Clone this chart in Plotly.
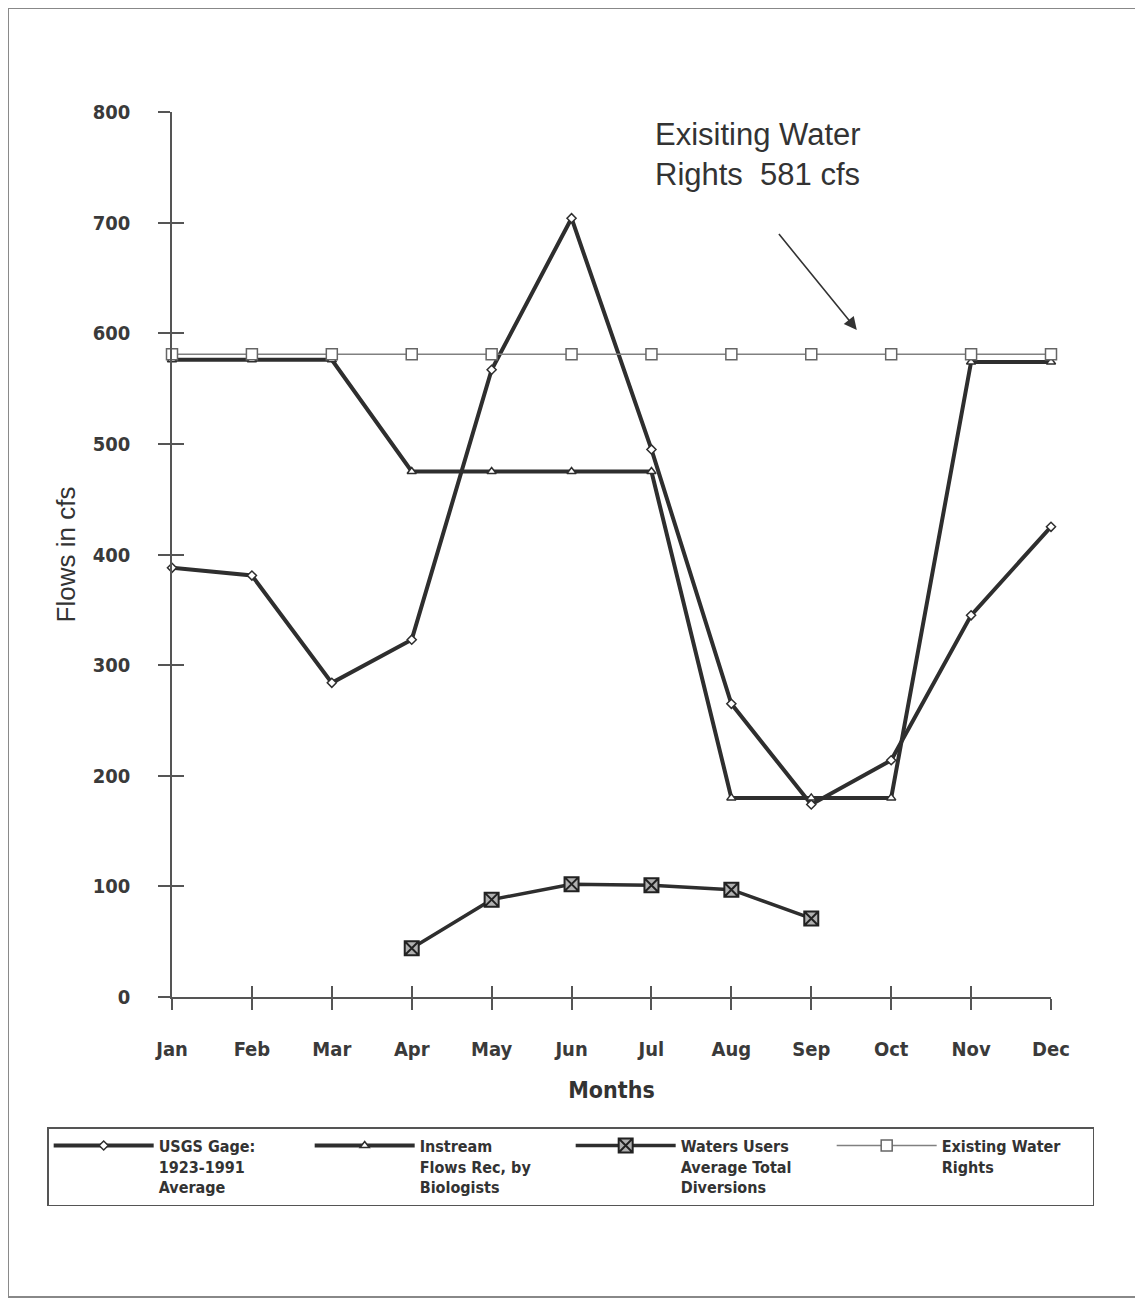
import plotly.graph_objects as go

months = ["Jan", "Feb", "Mar", "Apr", "May", "Jun", "Jul", "Aug", "Sep", "Oct", "Nov", "Dec"]
usgs_gage = [388, 381, 284, 323, 567, 704, 495, 265, 174, 214, 345, 425]
instream_flows = [576, 576, 576, 475, 475, 475, 475, 180, 180, 180, 574, 574]
diversion_months = ["Apr", "May", "Jun", "Jul", "Aug", "Sep"]
diversions = [44, 88, 102, 101, 97, 71]
existing_rights = [581] * 12

y_ticks = [0, 100, 200, 300, 400, 500, 600, 700, 800]

DARK = "#2e2e2e"
GRAY = "#808080"
NARROW = "DejaVu Sans Condensed, Liberation Sans Narrow, Liberation Sans, sans-serif"
SANS = "Liberation Sans, Arial, sans-serif"

xi = list(range(len(months)))
div_x = [months.index(m) for m in diversion_months]

fig = go.Figure()
fig.add_trace(go.Scatter(
    x=xi, y=usgs_gage, mode="lines+markers", name="USGS Gage:<br>1923-1991<br>Average",
    line=dict(color=DARK, width=4),
    marker=dict(symbol="diamond", size=7, color="white", line=dict(color=DARK, width=1.5)),
    cliponaxis=False))
fig.add_trace(go.Scatter(
    x=xi, y=instream_flows, mode="lines+markers", name="Instream<br>Flows Rec, by<br>Biologists",
    line=dict(color=DARK, width=4),
    marker=dict(symbol="triangle-up", size=8, color="white", line=dict(color=DARK, width=1.5)),
    cliponaxis=False))
fig.add_trace(go.Scatter(
    x=div_x, y=diversions, mode="lines+markers", name="Waters Users<br>Average Total<br>Diversions",
    line=dict(color=DARK, width=3.5),
    marker=dict(symbol="square-x", size=14, color="#b0b0b0", line=dict(color="#222222", width=2)),
    cliponaxis=False))
fig.add_trace(go.Scatter(
    x=xi, y=existing_rights, mode="lines+markers", name="Existing Water<br>Rights",
    line=dict(color=GRAY, width=1.5),
    marker=dict(symbol="square", size=11, color="white", line=dict(color="#666666", width=1.5)),
    cliponaxis=False))

# invisible trace to host the overlay axes that draw the inner half of the crossing ticks
fig.add_trace(go.Scatter(x=[0], y=[0], xaxis="x2", yaxis="y2", mode="markers",
                         marker=dict(opacity=0), showlegend=False, hoverinfo="skip"))

fig.update_layout(
    width=1135, height=1292,
    margin=dict(l=164, r=92, t=104, b=303),
    paper_bgcolor="white", plot_bgcolor="white",
    showlegend=True,
    xaxis=dict(
        range=[0, 11], tickvals=xi, ticktext=months,
        showgrid=False, zeroline=False, showline=True, linecolor="#555555", linewidth=1.5,
        ticks="outside", ticklen=11, tickwidth=1.5, tickcolor="#555555",
        tickfont=dict(family=NARROW, size=20, color="#3a3a3a", weight="bold"), ticklabelstandoff=22,
        title=dict(text="Months", font=dict(family=NARROW, size=23, color="#333333", weight="bold"), standoff=22),
    ),
    yaxis=dict(
        range=[0, 800], tickvals=y_ticks,
        showgrid=False, zeroline=False, showline=True, linecolor="#555555", linewidth=1.5,
        ticks="outside", ticklen=12, tickwidth=1.5, tickcolor="#555555",
        tickfont=dict(family=NARROW, size=20, color="#3a3a3a", weight="bold"), ticklabelstandoff=24,
        title=dict(text="Flows in cfs", font=dict(family=SANS, size=26, color="#333333"), standoff=10),
    ),
    xaxis2=dict(range=[0, 11], tickvals=xi, overlaying="x", anchor="y2", side="bottom",
                showticklabels=False, showgrid=False, zeroline=False, showline=False,
                ticks="inside", ticklen=11, tickwidth=1.5, tickcolor="#555555"),
    yaxis2=dict(range=[0, 800], tickvals=y_ticks, overlaying="y", anchor="x2", side="left",
                showticklabels=False, showgrid=False, zeroline=False, showline=False,
                ticks="inside", ticklen=12, tickwidth=1.5, tickcolor="#555555"),
    legend=dict(
        orientation="h", x=-0.142, y=-0.147, xanchor="left", yanchor="top",
        bordercolor="#555555", borderwidth=1.5, bgcolor="white",
        font=dict(family=NARROW, size=16, color="#333333", weight="bold"),
        valign="top", itemwidth=100, entrywidth=146, entrywidthmode="pixels",
        itemclick=False,
    ),
    annotations=[
        dict(x=6.02, y=797, xref="x", yref="y", xanchor="left", yanchor="top", align="left",
             text="Exisiting Water<br>Rights  581 cfs", showarrow=False,
             font=dict(family=SANS, size=31, color="#333333")),
        dict(x=8.57, y=603, ax=7.58, ay=691, xref="x", yref="y", axref="x", ayref="y",
             text="", showarrow=True, arrowhead=2, arrowsize=1.6, arrowwidth=1.6, arrowcolor="#333333"),
    ],
    shapes=[
        dict(type="rect", xref="paper", yref="paper", x0=-0.1866, x1=1.1013, y0=-0.339, y1=1.1175,
             line=dict(color="#888888", width=2), layer="below"),
    ],
)

fig.write_html("out.html")
